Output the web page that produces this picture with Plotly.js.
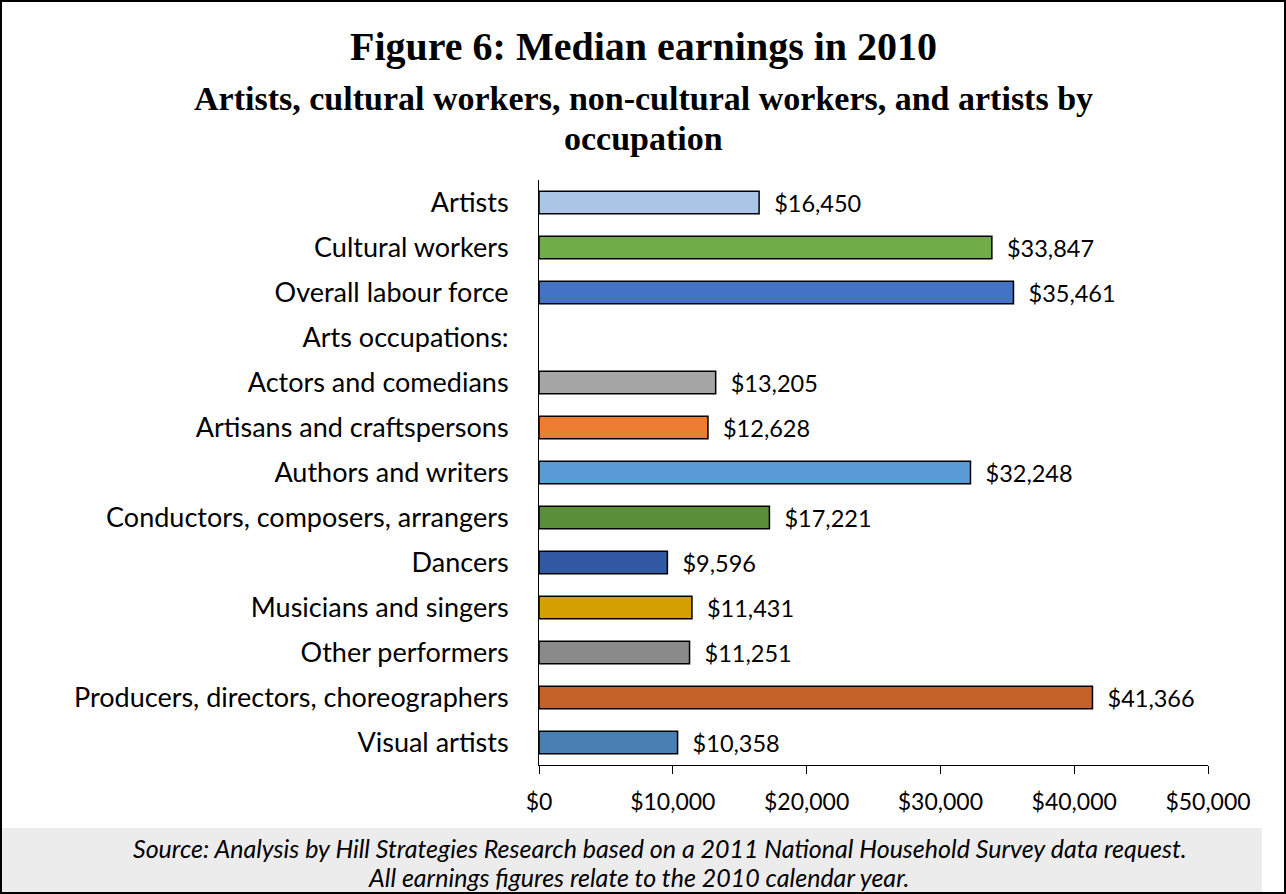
<!DOCTYPE html>
<html><head><meta charset="utf-8">
<script src="https://cdn.plot.ly/plotly-3.0.1.min.js"></script>
<style>html,body{margin:0;padding:0;background:#fff}#chart{width:1286px;height:894px}</style>
</head><body><div id="chart"></div>
<script>
const categories = ["Artists","Cultural workers","Overall labour force","Arts occupations:","Actors and comedians","Artisans and craftspersons","Authors and writers","Conductors, composers, arrangers","Dancers","Musicians and singers","Other performers","Producers, directors, choreographers","Visual artists"];
const earnings = [16450,33847,35461,null,13205,12628,32248,17221,9596,11431,11251,41366,10358];
const barColors = ["#abc5e7","#70ad47","#4472c4","#ffffff","#a5a5a5","#ed7d31","#5b9bd5","#5a8f3a","#325aa2","#d4a000","#8a8a8a","#c5622a","#4a7fb3"];
const tickVals = [0,10000,20000,30000,40000,50000];
const tickText = ["$0","$10,000","$20,000","$30,000","$40,000","$50,000"];

const labelFont = "Lato, 'Open Sans', sans-serif";
const trace = {
  type: "bar", orientation: "h",
  y: categories, x: earnings,
  marker: {color: barColors, line: {color: "#000", width: 1.5}},
  text: earnings.map(v => v == null ? "" : "\u00a0\u00a0$" + v.toLocaleString("en-US")),
  textposition: "outside", cliponaxis: false, constraintext: "none",
  textfont: {family: labelFont, size: 23.5, color: "#000"},
  hoverinfo: "none"
};
const layout = {
  width: 1286, height: 894,
  margin: {l: 539, r: 78, t: 180, b: 129},
  paper_bgcolor: "#fff", plot_bgcolor: "#fff",
  showlegend: false, bargap: 0.5,
  xaxis: {range: [0, 50000], tickvals: tickVals, ticktext: tickText, showgrid: false, zeroline: false,
          showline: true, linecolor: "#000", linewidth: 1, ticks: "outside", ticklen: 8, tickcolor: "#000",
          tickfont: {family: labelFont, size: 23, color: "#000"}, ticklabelstandoff: 8, fixedrange: true},
  yaxis: {autorange: "reversed", showgrid: false, zeroline: false, showline: true, linecolor: "#000", linewidth: 1,
          ticks: "", ticklen: 0, tickfont: {family: labelFont, size: 27, color: "#000"}, ticklabelstandoff: 24},
  shapes: [
    {type: "rect", xref: "paper", yref: "paper", x0: -539/669, x1: (1262-539)/669, y0: -129/585, y1: -(828-765)/585,
     fillcolor: "#ececec", line: {width: 0}, layer: "below"},
    {type: "rect", xref: "paper", yref: "paper", x0: -538/669, x1: (1285-539)/669, y0: -128/585, y1: 179/585 + 1,
     fillcolor: "rgba(0,0,0,0)", line: {color: "#000", width: 2}}
  ],
  annotations: [
    {text: "<b>Figure 6: Median earnings in 2010</b>", xref: "paper", yref: "paper", x: (643-539)/669, y: (765-47)/585, xanchor: "center", yanchor: "middle", showarrow: false,
     font: {family: "'Liberation Serif', serif", size: 40, color: "#000"}},
    {text: "<b>Artists, cultural workers, non-cultural workers, and artists by</b>", xref: "paper", yref: "paper", x: (643-539)/669, y: (765-98)/585, xanchor: "center", yanchor: "middle", showarrow: false,
     font: {family: "'Liberation Serif', serif", size: 34, color: "#000"}},
    {text: "<b>occupation</b>", xref: "paper", yref: "paper", x: (643-539)/669, y: (765-138)/585, xanchor: "center", yanchor: "middle", showarrow: false,
     font: {family: "'Liberation Serif', serif", size: 34, color: "#000"}},
    {text: "<i>Source: Analysis by Hill Strategies Research based on a 2011 National Household Survey data request.</i>", xref: "paper", yref: "paper", x: (660-539)/669, y: (765-848)/585, xanchor: "center", yanchor: "middle", showarrow: false,
     font: {family: labelFont, size: 25, color: "#000"}},
    {text: "<i>All earnings figures relate to the 2010 calendar year.</i>", xref: "paper", yref: "paper", x: (638-539)/669, y: (765-877)/585, xanchor: "center", yanchor: "middle", showarrow: false,
     font: {family: labelFont, size: 25, color: "#000"}}
  ]
};
Plotly.newPlot("chart", [trace], layout, {staticPlot: true});
</script>
</body></html>
